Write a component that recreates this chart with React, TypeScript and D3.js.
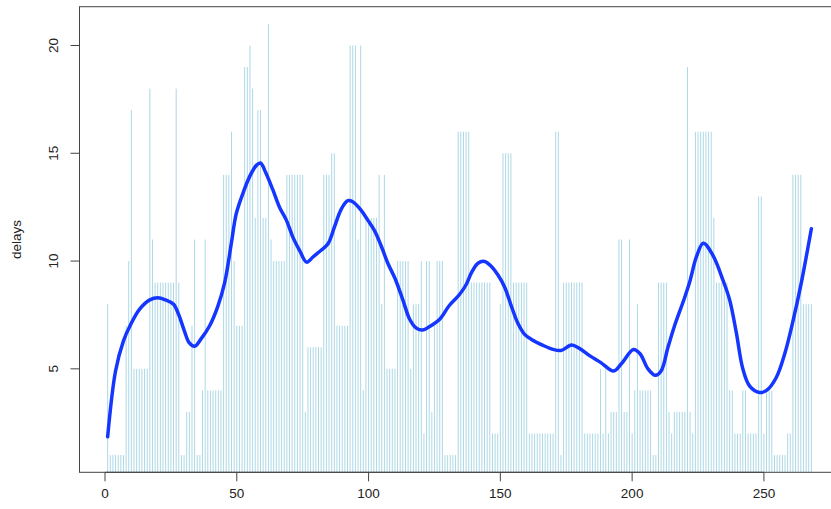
import React, { useEffect, useRef } from 'react';
import * as d3 from 'd3';

const delays: number[] = [
  8, 1, 1, 1, 1, 1, 1, 7, 10, 17,
  5, 5, 5, 5, 5, 5, 18, 11, 9, 9,
  9, 9, 9, 9, 9, 9, 18, 9, 1, 1,
  3, 3, 7, 11, 1, 1, 4, 11, 4, 4,
  4, 4, 4, 4, 14, 14, 14, 16, 10, 7,
  7, 7, 19, 19, 20, 18, 12, 17, 17, 12,
  12, 21, 11, 10, 10, 10, 10, 10, 14, 14,
  14, 14, 14, 14, 14, 3, 6, 6, 6, 6,
  6, 6, 14, 14, 14, 15, 15, 7, 7, 7,
  7, 7, 20, 20, 20, 11, 20, 4, 12, 12,
  12, 12, 12, 14, 8, 14, 5, 5, 5, 5,
  10, 10, 10, 10, 10, 5, 8, 8, 8, 10,
  2, 10, 10, 3, 7, 10, 10, 10, 1, 1,
  1, 1, 1, 16, 16, 16, 16, 16, 9, 9,
  9, 9, 9, 9, 9, 9, 2, 2, 2, 8,
  15, 15, 15, 15, 9, 9, 9, 9, 9, 9,
  2, 2, 2, 2, 2, 2, 2, 2, 2, 2,
  16, 16, 1, 9, 9, 9, 9, 9, 9, 9,
  9, 2, 2, 2, 2, 2, 2, 5, 2, 5,
  2, 3, 3, 3, 11, 11, 3, 3, 11, 2,
  4, 8, 4, 4, 4, 4, 4, 1, 1, 9,
  9, 9, 9, 3, 2, 3, 3, 3, 3, 3,
  19, 3, 2, 16, 16, 16, 16, 16, 16, 16,
  12, 9, 9, 9, 9, 9, 4, 4, 2, 2,
  2, 4, 4, 2, 2, 2, 2, 13, 13, 2,
  4, 4, 4, 1, 1, 1, 1, 1, 2, 2,
  14, 14, 14, 14, 8, 8, 8, 8,
];

// smoothed curve at these x positions
const smoothX: number[] = [
  1, 4, 7, 9.5, 13, 17, 20, 23, 26, 28,
  30, 32, 34, 36.5, 39.7, 42.8, 45.4, 47.9, 49.8, 52.5,
  55, 57.5, 59, 61, 63.7, 66.2, 68.8, 71.3, 73.8, 76.5,
  79, 82, 84.6, 87.1, 89.6, 92.1, 94, 97.2, 99.7, 102.3,
  104.8, 107.3, 110, 113, 115.6, 118, 120.6, 123, 127, 130.7,
  134.5, 137, 139, 141.5, 144, 146.6, 149.1, 151.6, 154.2, 156.7,
  159.2, 162, 166, 170, 173, 177, 180, 184, 188, 193,
  196, 200.5, 203, 206, 208.8, 211, 213.6, 216.1, 219.9, 222,
  224.4, 227, 230.7, 234.5, 237, 239.5, 242, 244.6, 248.4, 251,
  254.7, 257.9, 261, 264.2, 268,
];
const smoothY: number[] = [
  1.85, 4.9, 6.3, 7.0, 7.75, 8.2, 8.3, 8.2, 8.0, 7.5,
  6.8, 6.2, 6.05, 6.4, 7.0, 7.9, 9.0, 10.8, 12.2, 13.2,
  13.95, 14.45, 14.55, 14.1, 13.3, 12.5, 11.9, 11.1, 10.5, 9.95,
  10.2, 10.5, 10.8, 11.6, 12.4, 12.8, 12.75, 12.35, 11.9, 11.4,
  10.7, 9.9, 9.2, 8.2, 7.3, 6.9, 6.8, 6.95, 7.3, 7.95,
  8.45, 8.9, 9.45, 9.9, 9.98, 9.75, 9.35, 8.8, 7.9, 7.1,
  6.6, 6.35, 6.1, 5.9, 5.85, 6.1, 5.95, 5.6, 5.3, 4.9,
  5.25, 5.9, 5.7, 5.0, 4.7, 4.9, 6.0, 7.0, 8.3, 9.1,
  10.2, 10.83, 10.25, 9.1, 8.2, 6.7, 5.0, 4.2, 3.9, 4.0,
  4.6, 5.7, 7.2, 9.0, 11.5,
];

const xTicks = [0, 50, 100, 150, 200, 250];
const yTicks = [5, 10, 15, 20];

const DelaysChart = () => {
  const svgRef = useRef<SVGSVGElement>(null);

  useEffect(() => {
    document.body.style.margin = '0';

    const width = 831;
    const height = 509;
    const font = '"Liberation Sans", Arial, Helvetica, sans-serif';

    const svg = d3.select(svgRef.current)
      .attr('width', width)
      .attr('height', height);

    svg.selectAll('*').remove();

    const n = delays.length;
    const xPad = (n - 1) * 0.04;
    const yMin = d3.min(delays) as number;
    const yMax = d3.max(delays) as number;
    const yPad = (yMax - yMin) * 0.04;

    const xScale = d3.scaleLinear()
      .domain([1 - xPad, n + xPad])
      .range([79.5, 839.5]);

    const yScale = d3.scaleLinear()
      .domain([yMin - yPad, yMax + yPad])
      .range([472.3, 6.7]);

    const [px0, px1] = xScale.range();
    const [py0, py1] = yScale.range();

    svg.append('clipPath')
      .attr('id', 'plot-clip')
      .append('rect')
      .attr('x', px0)
      .attr('y', py1)
      .attr('width', px1 - px0)
      .attr('height', py0 - py1);

    const plot = svg.append('g').attr('clip-path', 'url(#plot-clip)');

    // type = "h" lines
    plot.selectAll('line.delay')
      .data(delays)
      .join('line')
      .attr('class', 'delay')
      .attr('x1', (d, i) => xScale(i + 1))
      .attr('x2', (d, i) => xScale(i + 1))
      .attr('y1', yScale(0))
      .attr('y2', d => yScale(d))
      .attr('stroke', '#add8e6')
      .attr('stroke-width', 1);

    const pts = smoothX.map((x, i) => [x, smoothY[i]] as [number, number]);
    const line = d3.line<[number, number]>()
      .x(d => xScale(d[0]))
      .y(d => yScale(d[1]))
      .curve(d3.curveCatmullRom.alpha(0.5));

    plot.append('path')
      .datum(pts)
      .attr('d', line)
      .attr('fill', 'none')
      .attr('stroke', '#1536ff')
      .attr('stroke-width', 3.5)
      .attr('stroke-linecap', 'round')
      .attr('stroke-linejoin', 'round');

    // box
    svg.append('rect')
      .attr('x', px0)
      .attr('y', py1)
      .attr('width', px1 - px0)
      .attr('height', py0 - py1)
      .attr('fill', 'none')
      .attr('stroke', '#444')
      .attr('stroke-width', 1);

    // x axis
    const xAxis = svg.append('g');
    xAxis.append('line')
      .attr('x1', xScale(xTicks[0]))
      .attr('x2', xScale(xTicks[xTicks.length - 1]))
      .attr('y1', py0)
      .attr('y2', py0)
      .attr('stroke', '#444');
    xAxis.selectAll('line.tick')
      .data(xTicks)
      .join('line')
      .attr('class', 'tick')
      .attr('x1', d => xScale(d))
      .attr('x2', d => xScale(d))
      .attr('y1', py0)
      .attr('y2', py0 + 9)
      .attr('stroke', '#444');
    xAxis.selectAll('text')
      .data(xTicks)
      .join('text')
      .attr('x', d => xScale(d))
      .attr('y', 498)
      .attr('text-anchor', 'middle')
      .attr('fill', '#222')
      .style('font-family', font)
      .style('font-size', '13.5px')
      .text(d => d);

    // y axis
    const yAxis = svg.append('g');
    yAxis.append('line')
      .attr('x1', px0)
      .attr('x2', px0)
      .attr('y1', yScale(yTicks[0]))
      .attr('y2', yScale(yTicks[yTicks.length - 1]))
      .attr('stroke', '#444');
    yAxis.selectAll('line.tick')
      .data(yTicks)
      .join('line')
      .attr('class', 'tick')
      .attr('x1', px0)
      .attr('x2', px0 - 9)
      .attr('y1', d => yScale(d))
      .attr('y2', d => yScale(d))
      .attr('stroke', '#444');
    yAxis.selectAll('text')
      .data(yTicks)
      .join('text')
      .attr('transform', d => `translate(58,${yScale(d)}) rotate(-90)`)
      .attr('text-anchor', 'middle')
      .attr('fill', '#222')
      .style('font-family', font)
      .style('font-size', '13.5px')
      .text(d => d);

    svg.append('text')
      .attr('transform', `translate(21,${(py0 + py1) / 2}) rotate(-90)`)
      .attr('text-anchor', 'middle')
      .attr('fill', '#222')
      .style('font-family', font)
      .style('font-size', '13.5px')
      .text('delays');
  }, []);

  return <svg ref={svgRef} style={{ display: 'block' }}></svg>;
};

export default function App() {
  return <DelaysChart />;
}
